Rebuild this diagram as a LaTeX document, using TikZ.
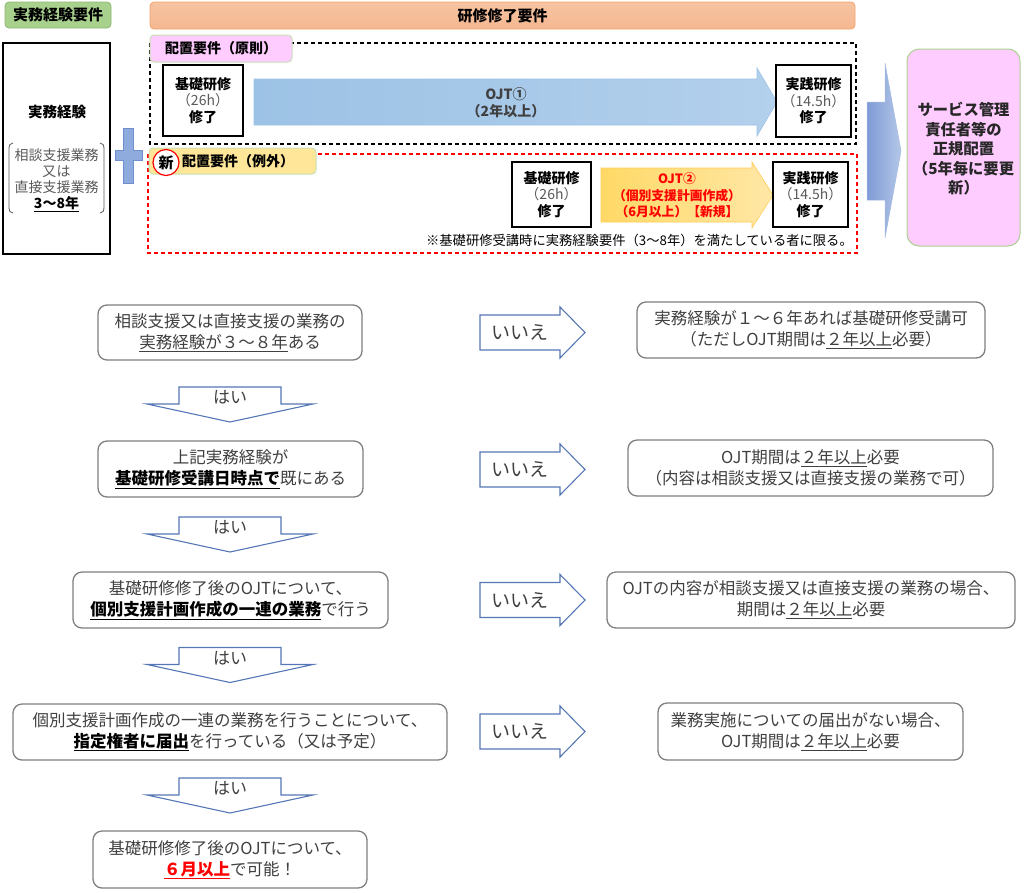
\documentclass[tikz,border=0pt]{standalone}
\usepackage{fontspec}
\setmainfont{Noto Sans CJK JP}
\definecolor{txtgray}{HTML}{404040}
\definecolor{midgray}{HTML}{595959}
\definecolor{boxgray}{HTML}{7F7F7F}
\definecolor{arrblue}{HTML}{5577B5}
\definecolor{lgreen}{HTML}{A9D18E}
\definecolor{dgreen}{HTML}{8DB870}
\definecolor{paleg}{HTML}{C5E0B4}
\definecolor{salmon}{HTML}{F5B891}
\definecolor{salmonb}{HTML}{F2A46E}
\definecolor{pinkf}{HTML}{FFCCFF}
\definecolor{yellowf}{HTML}{FFE699}
\definecolor{ojtblueL}{HTML}{9CC2E5}
\definecolor{ojtblueR}{HTML}{B3D0EC}
\definecolor{ojtorL}{HTML}{FFD966}
\definecolor{ojtorR}{HTML}{FFE7A6}
\definecolor{bigL}{HTML}{7F9BD6}
\definecolor{bigR}{HTML}{B4C7E7}
\definecolor{plusf}{HTML}{8FAADC}
\definecolor{plusb}{HTML}{6F8FCF}
\newcommand{\myul}[1]{\underline{#1}}
\begin{document}
\begin{tikzpicture}[x=1pt,y=-1pt,
  title/.style={rounded corners=4pt, inner sep=0pt, font=\fontsize{15}{18}\selectfont\bfseries},
  label/.style={rounded corners=4pt, inner sep=0pt, draw=paleg, line width=1pt, font=\fontsize{14}{17}\selectfont\bfseries},
  kbox/.style={draw=black, line width=2pt, fill=white, inner sep=0pt, align=center, font=\fontsize{14}{16.5}\selectfont},
  fcbox/.style={draw=boxgray, line width=1.3pt, rounded corners=9pt, fill=white, inner sep=0pt, align=center, text=txtgray, font=\fontsize{16.5}{21}\selectfont},
  arrowline/.style={draw=arrblue, line width=1.1pt, fill=white},
  arrtext/.style={text=txtgray, inner sep=0pt},
  noarrow/.pic={
    \draw[arrowline] (0,-17.5) -- (80,-17.5) -- (80,-25.5) -- (105,0) -- (80,25.5) -- (80,17.5) -- (0,17.5) -- cycle;
    \node[arrtext, font=\fontsize{19}{22}\selectfont] (-t) at (40,0) {いいえ};
  },
  yesarrow/.pic={
    \draw[arrowline] (-51,0) -- (51,0) -- (51,17) -- (83,17) -- (0,35) -- (-83,17) -- (-51,17) -- cycle;
    \node[arrtext, font=\fontsize{17}{20}\selectfont] (-t) at (0,10.5) {はい};
  }
]
\useasboundingbox (0,0) rectangle (1024,892);

% ---------- top headers ----------
\node[title, fill=lgreen, draw=dgreen, line width=0.8pt, minimum width=106pt, minimum height=26pt] (hdrexp) at (58,15) {実務経験要件};
\node[title, top color=salmon!85!white, bottom color=salmon, draw=salmonb, line width=0.8pt, minimum width=705pt, minimum height=27pt] (hdrtrain) at (502.5,15.5) {研修修了要件};

% ---------- left experience box ----------
\node[draw=black, line width=2pt, minimum width=107pt, minimum height=211pt, inner sep=0pt] (expbox) at (56.5,148.5) {};
\node[font=\fontsize{14.5}{17}\selectfont\bfseries] (exptitle) at (57,112) {実務経験};
\node[font=\fontsize{14}{16}\selectfont, align=center, text=midgray, inner sep=0pt] (expdetail) at (56.5,180) {相談支援業務\\又は\\直接支援業務\\\textcolor{black}{\textbf{\myul{3～8年}}}};
\draw[midgray, line width=0.8pt] (13,143) .. controls (10,143) and (9,145) .. (9,149) -- (9,207) .. controls (9,211) and (10,213) .. (13,213);
\draw[midgray, line width=0.8pt] (100,143) .. controls (103,143) and (104,145) .. (104,149) -- (104,207) .. controls (104,211) and (103,213) .. (100,213);

% ---------- plus sign ----------
\draw[fill=plusf, draw=plusb, line width=0.8pt] (123.5,128) -- (133,128) -- (133,150) -- (142.5,150) -- (142.5,160) -- (133,160) -- (133,183) -- (123.5,183) -- (123.5,160) -- (115,160) -- (115,150) -- (123.5,150) -- cycle;

% ---------- principle (black dashed) ----------
\draw[black, line width=1.5pt, dash pattern=on 4pt off 3pt] (150,43) rectangle (856,144);
\node[label, fill=pinkf, minimum width=142pt, minimum height=27pt] (lblprin) at (221,48.5) {配置要件（原則）};
\node[kbox, minimum width=80pt, minimum height=71pt] (kiso1) at (203,100.5) {\textbf{基礎研修}\\\textcolor{midgray}{（26h）}\\\textbf{修了}};
\path[left color=ojtblueL, right color=ojtblueR, draw=ojtblueL, line width=0.6pt] (254,79) -- (757,79) -- (757,68) -- (777,102) -- (757,136) -- (757,125) -- (254,125) -- cycle;
\node[align=center, font=\fontsize{14}{17}\selectfont\bfseries, text=txtgray] (ojt1) at (506,103) {OJT①\\（2年以上）};
\node[kbox, minimum width=75pt, minimum height=72pt] (jissen1) at (813.5,101) {\textbf{実践研修}\\\textcolor{midgray}{（14.5h）}\\\textbf{修了}};

% ---------- exception (red dashed) ----------
\draw[red, line width=1.5pt, dash pattern=on 4pt off 3pt] (148,154) rectangle (857,253);
\node[label, fill=yellowf, minimum width=167pt, minimum height=26pt] (lblexc) at (232.5,161) {};
\node[font=\fontsize{14}{17}\selectfont\bfseries, inner sep=0pt] (lblexctext) at (238,161.5) {配置要件（例外）};
\node[circle, draw=red, line width=1.2pt, fill=white, minimum size=26pt, inner sep=0pt, font=\fontsize{15}{17}\selectfont\bfseries] (newmark) at (166,162.5) {新};
\node[kbox, minimum width=79pt, minimum height=65pt] (kiso2) at (551.5,194.5) {\textbf{基礎研修}\\\textcolor{midgray}{（26h）}\\\textbf{修了}};
\path[left color=ojtorL, right color=ojtorR, draw=ojtorL!85!orange, line width=0.6pt] (601,168) -- (752,168) -- (752,162) -- (773,195) -- (752,228) -- (752,222) -- (601,222) -- cycle;
\node[align=center, font=\fontsize{12.8}{16.5}\selectfont\bfseries, text=red] (ojt2) at (677,195.5) {OJT②\\（個別支援計画作成）\\（6月以上）【新規】};
\node[kbox, minimum width=75pt, minimum height=65pt] (jissen2) at (810.5,194.5) {\textbf{実践研修}\\\textcolor{midgray}{（14.5h）}\\\textbf{修了}};
\node[anchor=east, inner sep=0pt, font=\fontsize{13.3}{15}\selectfont] (note) at (853,240) {※基礎研修受講時に実務経験要件（3～8年）を満たしている者に限る。};

% ---------- big arrow and result ----------
\path[left color=bigL, right color=bigR, draw=bigL!70!white, line width=0.5pt] (867,102) -- (885,102) -- (885,63) -- (901,151) -- (885,238) -- (885,200) -- (867,200) -- cycle;
\node[draw=lgreen, line width=1pt, fill=pinkf, rounded corners=12pt, minimum width=113pt, minimum height=197pt, inner sep=0pt] (result) at (963.5,147.5) {};
\node[align=center, font=\fontsize{15.3}{19.5}\selectfont\bfseries, text=txtgray!60!black] (resulttext) at (963.5,149) {サービス管理\\責任者等の\\正規配置\\（5年毎に要更\\新）};

% ---------- flowchart ----------
\node[fcbox, minimum width=264pt, minimum height=55pt] (q1) at (230,332.5) {相談支援又は直接支援の業務の\\\myul{実務経験が３～８年}ある};
\node[fcbox, minimum width=265pt, minimum height=56pt] (q2) at (230.5,469) {上記実務経験が\\\textcolor{black}{\textbf{\myul{基礎研修受講日時点で}}}既にある};
\node[fcbox, minimum width=315pt, minimum height=56pt] (q3) at (230.5,600) {基礎研修修了後のOJTについて、\\\textcolor{black}{\textbf{\myul{個別支援計画作成の一連の業務}}}で行う};
\node[fcbox, minimum width=434pt, minimum height=56pt] (q4) at (230,732) {個別支援計画作成の一連の業務を行うことについて、\\\textcolor{black}{\textbf{\myul{指定権者に届出}}}を行っている（又は予定）};
\node[fcbox, minimum width=274pt, minimum height=57pt] (q5) at (230,859.5) {基礎研修修了後のOJTについて、\\\textcolor{red}{\textbf{\myul{６月以上}}}で可能！};

\node[fcbox, minimum width=348pt, minimum height=56pt] (a1) at (811,330) {実務経験が１～６年あれば基礎研修受講可\\（ただしOJT期間は\myul{２年以上}必要）};
\node[fcbox, minimum width=365pt, minimum height=56pt] (a2) at (810.5,468) {OJT期間は\myul{２年以上}必要\\（内容は相談支援又は直接支援の業務で可）};
\node[fcbox, minimum width=408pt, minimum height=56pt] (a3) at (811,600) {OJTの内容が相談支援又は直接支援の業務の場合、\\期間は\myul{２年以上}必要};
\node[fcbox, minimum width=305pt, minimum height=57pt] (a4) at (810.5,731.5) {業務実施についての届出がない場合、\\OJT期間は\myul{２年以上}必要};

\pic (n1) at (480,332.5) {noarrow};
\pic (n2) at (480,469.5) {noarrow};
\pic (n3) at (480,600) {noarrow};
\pic (n4) at (480,731.5) {noarrow};

\pic (y1) at (230,387) {yesarrow};
\pic (y2) at (230,517) {yesarrow};
\pic (y3) at (230,647.5) {yesarrow};
\pic (y4) at (230,778) {yesarrow};
\end{tikzpicture}
\end{document}
